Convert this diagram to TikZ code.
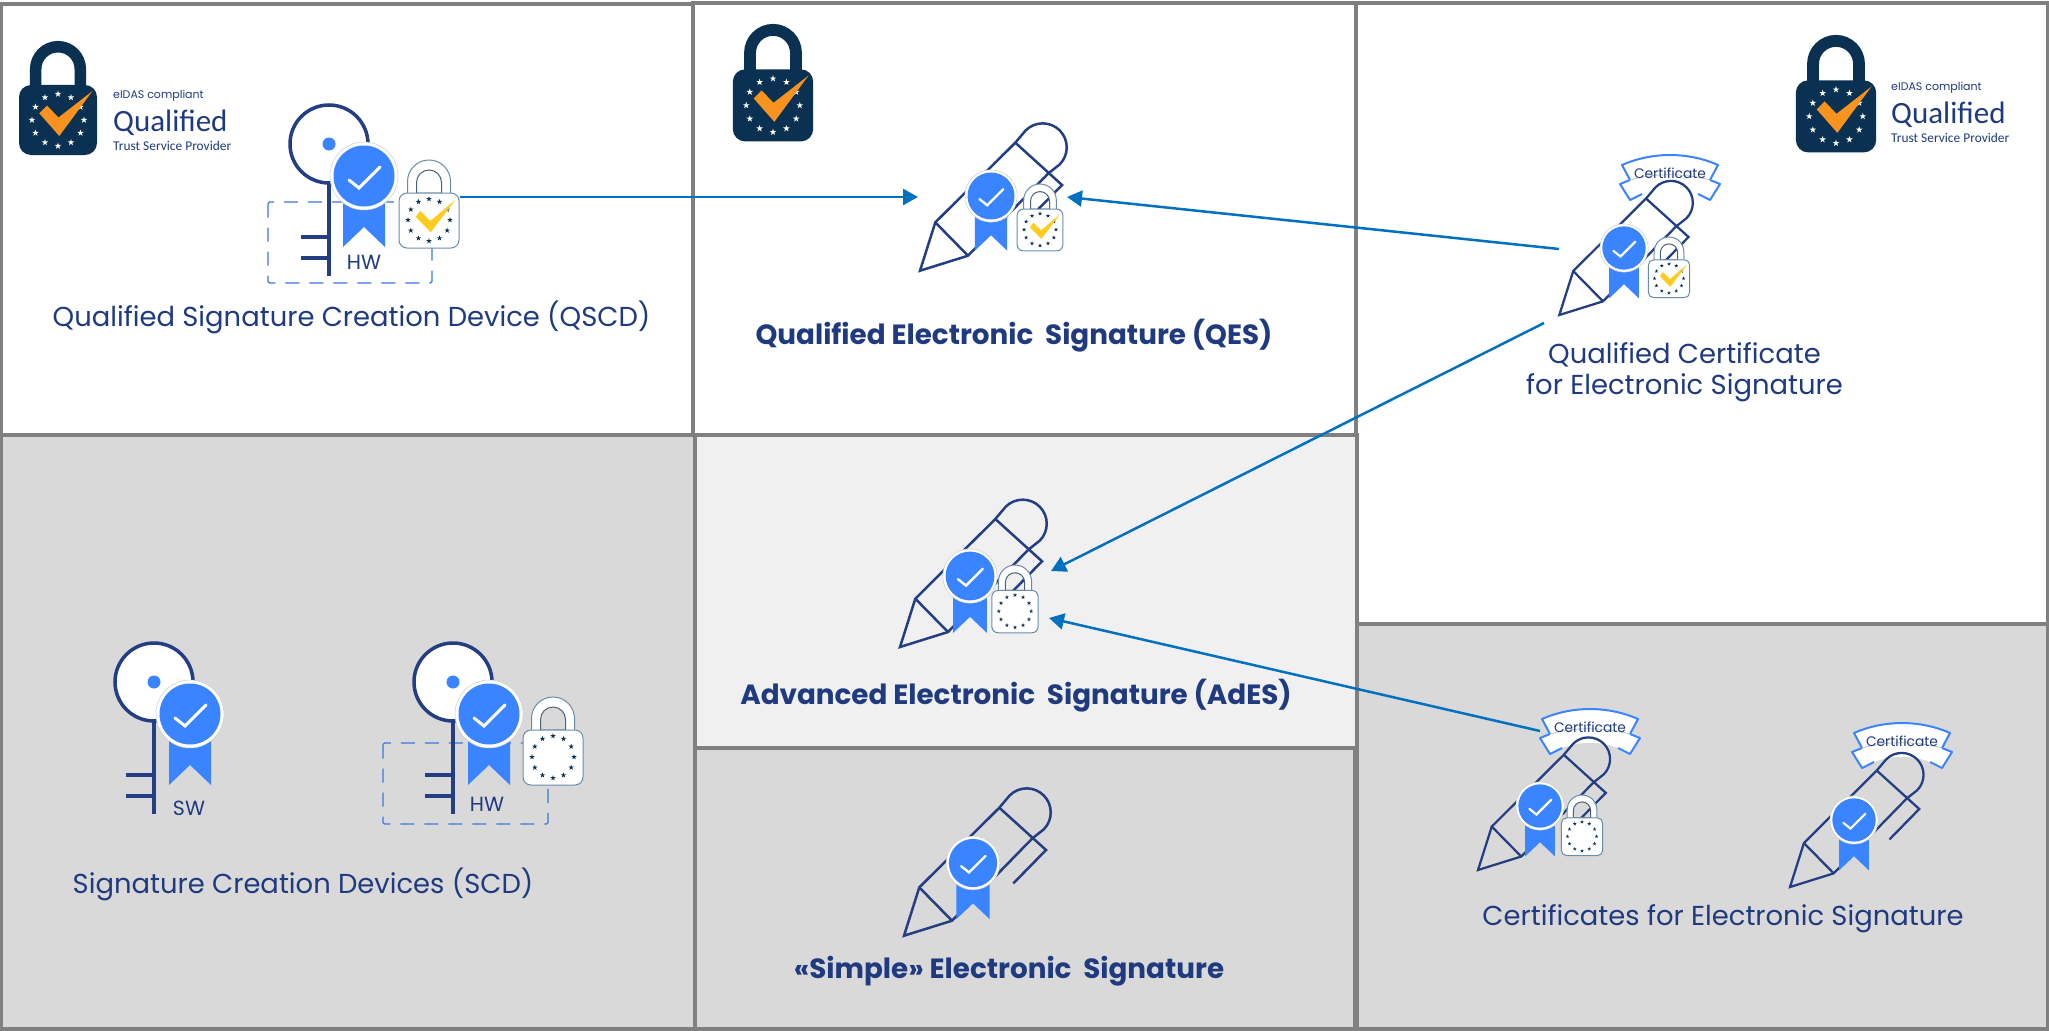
\documentclass[tikz,border=0pt]{standalone}
\usepackage{fontspec}
\setmainfont{Poppins}
\newfontfamily\tfont{Poppins}
\newfontfamily\lfont{Carlito}
\usetikzlibrary{arrows.meta}
\definecolor{navy}{HTML}{1F3A7F}
\definecolor{pennavy}{HTML}{233E82}
\definecolor{ribblue}{HTML}{3B84FF}
\definecolor{boxblue}{HTML}{3A74E0}
\definecolor{lockblue}{HTML}{0B3152}
\definecolor{lockedge}{HTML}{6A8CAB}
\definecolor{arrowblue}{HTML}{0070C0}
\definecolor{panelgrey}{HTML}{D9D9D9}
\definecolor{panellight}{HTML}{F0F0F0}
\definecolor{panelline}{HTML}{808080}
\definecolor{checkorange}{HTML}{F7931E}
\definecolor{checkyellow}{HTML}{FFCB1F}
\tikzset{
  panel/.style={draw=panelline,line width=4pt},
  link/.style={draw=arrowblue,line width=2.5pt,-{Triangle[length=15pt,width=16pt]}},
  lab/.style={text=navy,inner sep=0pt,font=\tfont\fontsize{27.4}{31}\selectfont,align=center},
  blab/.style={text=navy,inner sep=0pt,font=\tfont\bfseries\fontsize{27.8}{31}\selectfont,align=center},
  tag/.style={text=navy,inner sep=0pt,font=\tfont\fontsize{20.5}{23}\selectfont},
  lg/.style={text=navy,inner sep=0pt,anchor=west},
  hwbox/.style={draw=boxblue,line width=1.3pt,rounded corners=1.5pt,dash pattern=on 14pt off 10pt},
}
% five-pointed star, centre at local origin
\newcommand{\starpath}{(0,-1)--(-.223,-.307)--(-.951,-.309)--(-.361,.117)--(-.588,.809)--(0,.38)--(.588,.809)--(.361,.117)--(.951,-.309)--(.223,-.307)--cycle}
% arch shackle path: half width, top y, foot y
\newcommand{\archpath}[3]{(-#1,#3) -- (-#1,#2+#1) .. controls (-#1,#2+.4477*#1) and (-.5523*#1,#2) .. (0,#2) .. controls (.5523*#1,#2) and (#1,#2+.4477*#1) .. (#1,#2+#1) -- (#1,#3)}
% pen: tip x, tip y, scale
\newcommand{\penicon}[3]{%
  \begin{scope}[shift={(#1,#2)},scale=#3,draw=pennavy,line width=#3*2.5pt,line join=miter]
    \draw (0,0)--(15.3,-48.3)--(95.3,-128)--(105.7,-140.3)
      .. controls (115.07,-149.67) and (130.33,-149.67) .. (139.7,-140.3)
      .. controls (149.07,-130.93) and (149.07,-115.67) .. (139.7,-106.3)
      -- (128.3,-97.3) -- (48,-15) -- cycle;
    \draw (15.3,-48.3)--(48,-15);
    \draw (95.3,-128)--(142,-85.7)--(109.3,-52.3);
  \end{scope}}
% badge: centre x, centre y, scale
\newcommand{\badge}[3]{%
  \begin{scope}[shift={(#1,#2)},scale=#3]
    \fill[ribblue] (-21,20)--(21,20)--(21,71)--(0,51)--(-21,71)--cycle;
    \fill[white] (0,0) circle[radius=34];
    \draw[black!20,line width=.5pt] (0,0) circle[radius=34];
    \fill[ribblue] (0,0) circle[radius=30.5];
    \draw[white,line width=#3*3pt,line cap=round] (-15,4)--(-5,12)--(16,-9);
  \end{scope}}
% white lock: centre x, shackle top y, scale, optional check
\newcommand{\smalllock}[4]{%
  \begin{scope}[shift={(#1,#2)},scale=#3]
    \fill[white,even odd rule] \archpath{21.5}{0}{35} -- cycle \archpath{12.5}{10}{33} -- cycle;
    \draw[lockedge,line width=1pt] \archpath{21.5}{0}{33};
    \draw[lockedge!70!black,line width=1pt] \archpath{12.5}{10}{33} -- cycle;
    \draw[lockedge,fill=white,line width=1pt,rounded corners=#3*8pt] (-30,33) rectangle (30,88);
    \begin{scope}[shift={(0,60)}]
      \foreach \a in {0,30,...,330} \fill[lockblue,shift={(\a:21)},scale=2.9] \starpath;
    \end{scope}
    #4
  \end{scope}}
\newcommand{\ycheck}{\fill[checkyellow] (-13.3,56.7)--(1.7,72.3)--(26.3,40)--(1.3,61)--(-8.7,50.8)--cycle;}
% dark eIDAS lock: centre x, top y, scale
\newcommand{\darklock}[3]{%
  \begin{scope}[shift={(#1,#2)},scale=#3]
    \draw[lockblue,line width=#3*11.5pt] \archpath{22.3}{5.7}{50};
    \fill[lockblue,rounded corners=#3*12pt] (-39,44) rectangle (39,114);
    \begin{scope}[shift={(0,79)}]
      \foreach \a in {0,30,...,330} \fill[white,shift={(\a:26)},scale=3.4] \starpath;
    \end{scope}
    \fill[checkorange] (-18.7,72.3)--(1.3,95)--(34.5,50)--(.5,76.5)--(-11,64.5)--cycle;
  \end{scope}}
% key: circle centre x, y
\newcommand{\keyicon}[2]{%
  \begin{scope}[shift={(#1,#2)}]
    \draw[pennavy,line width=3.5pt] (0,39)--(0,132);
    \draw[pennavy,line width=3.5pt] (-28,93)--(0,93) (-28,114)--(0,114);
    \draw[pennavy,line width=3.5pt,fill=white] (0,0) circle[radius=39];
    \fill[ribblue] (0,0) circle[radius=6.5];
  \end{scope}}
% certificate banner: top centre x, y, node name
\newcommand{\banner}[3]{%
  \begin{scope}[shift={(#1,#2)}]
    \fill[white] (-48,10) .. controls (-18,-3.3) and (18,-3.3) .. (48,10) -- (40,25) -- (50,29) -- (40,45) -- (28,39)
      .. controls (10,32) and (-10,32) .. (-28,39) -- (-40,45) -- (-50,29) -- (-40,25) -- cycle;
    \draw[ribblue,line width=2pt,line join=round] (-40,25) -- (-48,10) .. controls (-18,-3.3) and (18,-3.3) .. (48,10) -- (40,25);
    \draw[ribblue,line width=2pt,line join=round] (40,25) -- (50,29) -- (40,45) -- (28,39);
    \draw[ribblue,line width=2pt,line join=round] (-40,25) -- (-50,29) -- (-40,45) -- (-28,39);
    \draw[black!25,line width=.8pt] (-40,25) .. controls (-15,18) and (15,18) .. (40,25);
    \node[inner sep=0pt,text=navy,font=\tfont\fontsize{13.8}{15}\selectfont] (#3) at (0,18) {Certificate};
  \end{scope}}
% qualified label: left x, centre y of the word, prefix for names
\newcommand{\qualtext}[3]{%
  \node[lg,font=\tfont\fontsize{11}{13}\selectfont] (#3e) at (#1,#2-27) {eIDAS compliant};
  \node[lg,font=\lfont\fontsize{31}{34}\selectfont] (#3q) at (#1,#2) {Qualified};
  \node[lg,font=\lfont\fontsize{13.4}{16}\selectfont] (#3t) at (#1,#2+23) {Trust Service Provider};}
\begin{document}
\begin{tikzpicture}[x=1pt,y=-1pt]
\useasboundingbox (0,0) rectangle (2049,1030);
\fill[white] (0,0) rectangle (2049,1030);
% panels
\path[panel,fill=white] (.5,4) rectangle (692.5,435);
\path[panel,fill=white] (692.5,3) rectangle (1356,435);
\path[panel,fill=white] (1356,3) rectangle (2048,624);
\path[panel,fill=panelgrey] (.5,435) rectangle (695,1029);
\path[panel,fill=panellight] (695,435) rectangle (1357,748);
\path[panel,fill=panelgrey] (695,748) rectangle (1355,1029);
\path[panel,fill=panelgrey] (1357,624) rectangle (2048,1029);
% connectors' end points
\coordinate (qscdout) at (460,197);
\coordinate (qesinl) at (918,197);
\coordinate (qesinr) at (1067,197);
\coordinate (qcout) at (1559,249);
\coordinate (qcout2) at (1544,323);
\coordinate (adesinr) at (1051,571);
\coordinate (adesinl) at (1049,618);
\coordinate (certout) at (1540,731);
% QSCD
\darklock{58}{41}{1}
\qualtext{113}{123}{a}
\draw[hwbox] (268,202) rectangle (432,283);
\keyicon{329}{144}
\badge{364}{176}{1}
\smalllock{429}{160}{1}{\ycheck}
\node[tag] (hwa) at (364,262) {HW};
\node[lab] (qscd) at (351.5,317.5) {Qualified Signature Creation Device (QSCD)};
% QES
\darklock{773}{24}{1.03}
\penicon{920}{270.7}{1}
\badge{991}{196}{.77}
\smalllock{1040}{184}{.76}{\ycheck}
\node[blab] (qes) at (1014,336) {Qualified Electronic\ \ Signature (QES)};
% Qualified certificate
\darklock{1836}{35}{1.03}
\qualtext{1891}{115}{b}
\banner{1670}{155}{certa}
\penicon{1559.3}{315}{.91}
\badge{1624}{248}{.71}
\smalllock{1669}{237}{.69}{\ycheck}
\node[lab] (qc) at (1684.5,372) {Qualified Certificate\\[0pt]for Electronic Signature};
% SCD
\keyicon{154}{682}
\badge{190}{714}{1}
\node[tag] (sw) at (189,808) {SW};
\draw[hwbox] (383,743) rectangle (548,824);
\keyicon{453}{682}
\badge{489}{714}{1}
\smalllock{553}{697}{1}{}
\node[tag] (hwb) at (487,804) {HW};
\node[lab] (scd) at (303,884.5) {Signature Creation Devices (SCD)};
% AdES
\penicon{900}{647}{1}
\badge{970}{576}{.8}
\smalllock{1015}{565}{.77}{}
\node[blab] (ades) at (1016,696) {Advanced Electronic\ \ Signature (AdES)};
% Simple
\penicon{904}{935.7}{1}
\badge{973}{863}{.79}
\node[blab] (simple) at (1009,971.5) {«Simple» Electronic\ \ Signature};
% Certificates
\banner{1590}{709}{certb}
\penicon{1478}{870}{.9}
\badge{1540}{806}{.71}
\smalllock{1582}{795}{.69}{}
\banner{1902}{723}{certc}
\penicon{1790}{887}{.91}
\badge{1854}{820}{.71}
\node[lab] (cert) at (1723,918.5) {Certificates for Electronic Signature};
% connectors
\draw[link] (qscdout) -- (qesinl);
\draw[link] (qcout) -- (qesinr);
\draw[link] (qcout2) -- (adesinr);
\draw[link] (certout) -- (adesinl);
\end{tikzpicture}
\end{document}
